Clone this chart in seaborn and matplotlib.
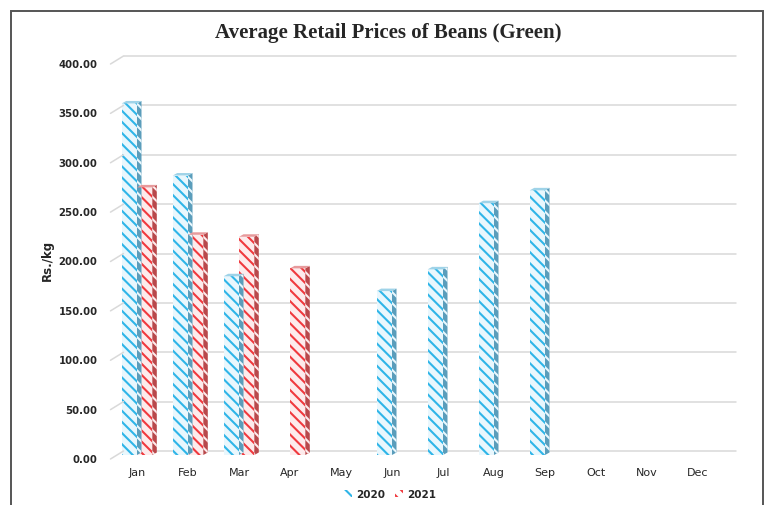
import numpy as np
import pandas as pd
import matplotlib
matplotlib.use("Agg")
import matplotlib.pyplot as plt
import matplotlib.transforms as mtransforms
from matplotlib.patches import Polygon, Patch, Rectangle
from matplotlib.lines import Line2D
import seaborn as sns

# ---- data ----
months = ["Jan", "Feb", "Mar", "Apr", "May", "Jun", "Jul", "Aug", "Sep", "Oct", "Nov", "Dec"]
prices_2020 = [356, 283, 181, np.nan, np.nan, 166, 188, 255, 268, np.nan, np.nan, np.nan]
prices_2021 = [271, 223, 221, 189, np.nan, np.nan, np.nan, np.nan, np.nan, np.nan, np.nan, np.nan]
years = ["2020", "2021"]
yticks = [0, 50, 100, 150, 200, 250, 300, 350, 400]
title = "Average Retail Prices of Beans (Green)"
ylabel = "Rs./kg"

stripe = {"2020": "#2FB5E8", "2021": "#F0393E"}
tint = {"2020": "#E9F7FD", "2021": "#FDEBEC"}
side = {"2020": "#5A9DBB", "2021": "#B9484B"}
topc = {"2020": "#9FD3E8", "2021": "#E79A9C"}

df = pd.DataFrame({
    "month": months * 2,
    "year": ["2020"] * 12 + ["2021"] * 12,
    "price": prices_2020 + prices_2021,
}).dropna()

sns.set_style("white")
plt.rcParams["hatch.linewidth"] = 1.5

fig = plt.figure(figsize=(7.66, 5.06), dpi=100)
ax = fig.add_axes([111.5 / 766, 50 / 506, 612 / 766, 395 / 506])

sns.barplot(data=df, x="month", y="price", hue="year", order=months,
            hue_order=years, palette=[stripe[y] for y in years],
            width=0.6, ax=ax, legend=False, linewidth=0, saturation=1)

ax.set_ylim(0, 400)
ax.set_xlim(-0.5, 11.5)

# restyle bars: white-ish face with coloured diagonal stripes + 3D side/top
dxd = 4.5 / 51.0
dyd = 2.5 / 0.9875
for p in list(ax.patches):
    if not isinstance(p, Rectangle):
        continue
    h = p.get_height()
    if not np.isfinite(h) or h <= 0:
        continue
    fc = matplotlib.colors.to_hex(p.get_facecolor())
    yr = "2020" if fc.lower() == stripe["2020"].lower() else "2021"
    p.set_facecolor(tint[yr])
    p.set_edgecolor(stripe[yr])
    p.set_hatch("\\\\\\")
    p.set_linewidth(0)
    x, w = p.get_x(), p.get_width()
    sp = Polygon([(x + w, 0), (x + w, h), (x + w + dxd, h + dyd), (x + w + dxd, dyd)],
                 closed=True, facecolor=side[yr], edgecolor=tint[yr], hatch="\\\\\\",
                 linewidth=0, zorder=p.get_zorder())
    ax.add_patch(sp)
    tp = Polygon([(x, h), (x + w, h), (x + w + dxd, h + dyd), (x + dxd, h + dyd)],
                 closed=True, facecolor=topc[yr], edgecolor="none", linewidth=0,
                 zorder=p.get_zorder())
    ax.add_patch(tp)

# back-wall gridlines with 3D stubs
grid_tr = mtransforms.offset_copy(ax.get_yaxis_transform(), fig=fig, x=12, y=4, units="dots")
ident = mtransforms.IdentityTransform()
for v in yticks:
    ax.plot([0, 1], [v, v], transform=grid_tr, color="#D9D9D9", lw=1.1,
            clip_on=False, zorder=0)
    p0 = ax.get_yaxis_transform().transform((0, v))
    fig.lines.append(Line2D([p0[0] - 1, p0[0] + 12], [p0[1] - 4, p0[1] + 4],
                            transform=ident, color="#D9D9D9", lw=1.1, zorder=0))

for s in ax.spines.values():
    s.set_visible(False)

ax.set_yticks(yticks)
ax.set_yticklabels([f"{v:.2f}" for v in yticks], fontsize=7.3, fontweight="bold",
                   family="DejaVu Sans")
ax.tick_params(axis="y", length=0, pad=10)
ax.tick_params(axis="x", length=0, pad=9)
ax.set_xticks(range(len(months)))
ax.set_xticklabels(months, fontsize=8, family="DejaVu Sans")
off = mtransforms.ScaledTranslation(0, -3 / 100, fig.dpi_scale_trans)
for lab in ax.get_yticklabels():
    lab.set_transform(lab.get_transform() + off)

ax.set_xlabel("")
ax.set_ylabel(ylabel, fontsize=8.5, family=["Liberation Sans Narrow", "DejaVu Sans"],
              fontweight="bold")
ax.yaxis.set_label_coords((54 - 111.5) / 612, (456 - 260) / 395)

fig.text(388 / 766, 1 - 33 / 506, title, ha="center", va="center",
         fontsize=15, fontweight="bold", family="Liberation Serif")

handles = [Patch(facecolor="white", edgecolor=stripe[y], hatch="\\\\\\", linewidth=0)
           for y in years]
fig.legend(handles, years, loc="center", bbox_to_anchor=(390 / 766, 1 - 495 / 506),
           ncol=2, frameon=False, handlelength=0.7, handleheight=0.7,
           handletextpad=0.4, columnspacing=1.0,
           prop={"size": 7.5, "weight": "bold", "family": "DejaVu Sans"})

# outer chart frame
fig.patches.append(Rectangle((11, -10), 752, 506 - 12 + 10, transform=ident, fill=False,
                             edgecolor="#555555", linewidth=1.4))

fig.savefig("out.png", dpi=100)
